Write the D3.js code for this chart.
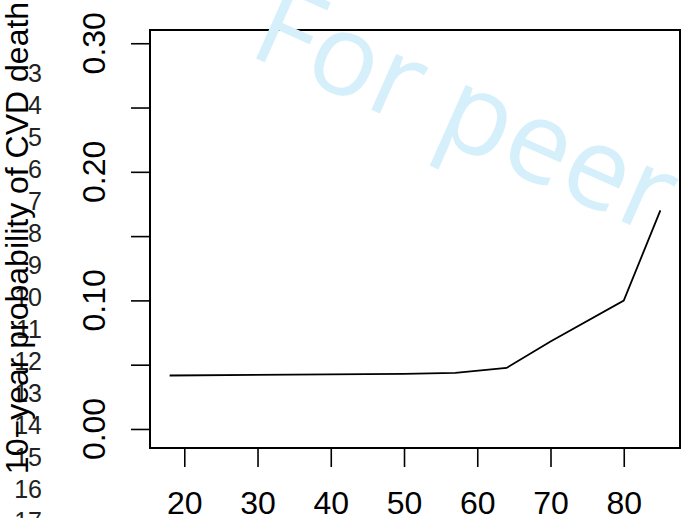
<!DOCTYPE html>
<html>
<head>
<meta charset="utf-8">
<script src="https://cdn.jsdelivr.net/npm/d3@7"></script>
<style>
  html, body { margin: 0; padding: 0; background: #fff; }
  svg { display: block; }
</style>
</head>
<body>
<div id="chart"></div>
<script>
const ages = [18, 50, 57, 64, 70, 80, 85];
const risk = [0.0416, 0.0428, 0.0436, 0.0475, 0.068, 0.0998, 0.170];
const xTicks = [20, 30, 40, 50, 60, 70, 80];
const yTicks = [0, 0.05, 0.10, 0.15, 0.20, 0.25, 0.30];
const yLabelled = [0, 0.10, 0.20, 0.30];
const lineNumbers = [3, 4, 5, 6, 7, 8, 9, 10, 11, 12, 13, 14, 15, 16, 17];

const W = 681, H = 518;
const box = { left: 150, right: 680, top: 30, bottom: 448 };
const font = 'Liberation Sans, Arial, Helvetica, sans-serif';

const svg = d3.select('#chart').append('svg')
  .attr('width', W).attr('height', H)
  .attr('viewBox', `0 0 ${W} ${H}`);

// R pads the data range by 4% on each side
const xPad = (d3.max(ages) - d3.min(ages)) * 0.04;
const x = d3.scaleLinear()
  .domain([d3.min(ages) - xPad, d3.max(ages) + xPad])
  .range([box.left, box.right]);
const y = d3.scaleLinear()
  .domain([-0.0148, 0.3103])
  .range([box.bottom, box.top]);

// manuscript line numbers in the margin
svg.append('g')
  .selectAll('text').data(lineNumbers).join('text')
  .attr('x', 42)
  .attr('y', d => 296.7 + (d - 10) * 32 + 9)
  .attr('text-anchor', 'end')
  .attr('font-family', font).attr('font-size', 25)
  .attr('fill', '#222')
  .text(d => d);

// x axis
const xAxis = svg.append('g')
  .attr('transform', `translate(0,${box.bottom})`)
  .call(d3.axisBottom(x).tickValues(xTicks).tickSize(19).tickPadding(0).tickFormat(d3.format('d')));
xAxis.select('.domain').remove();
xAxis.selectAll('line').attr('stroke', '#000').attr('stroke-width', 1.6);
xAxis.selectAll('text')
  .attr('font-family', font).attr('font-size', 32).attr('fill', '#000')
  .attr('dy', null).attr('y', 66);

// y axis
const yAxis = svg.append('g')
  .attr('transform', `translate(${box.left},0)`)
  .call(d3.axisLeft(y).tickValues(yTicks).tickSize(19).tickFormat(''));
yAxis.select('.domain').remove();
yAxis.selectAll('line').attr('stroke', '#000').attr('stroke-width', 1.6);

svg.append('g')
  .selectAll('text').data(yLabelled).join('text')
  .attr('transform', d => `translate(105,${y(d)}) rotate(-90)`)
  .attr('text-anchor', 'middle')
  .attr('font-family', font).attr('font-size', 32).attr('fill', '#000')
  .text(d => d.toFixed(2));

// y label
svg.append('text')
  .attr('transform', `translate(28,${(box.top + box.bottom) / 2 - 1}) rotate(-90)`)
  .attr('text-anchor', 'middle')
  .attr('font-family', font).attr('font-size', 32).attr('fill', '#000')
  .text('10\u2212year probability of CVD death');

// data line
svg.append('path')
  .datum(ages.map((a, i) => [a, risk[i]]))
  .attr('fill', 'none').attr('stroke', '#000').attr('stroke-width', 1.8)
  .attr('d', d3.line().x(d => x(d[0])).y(d => y(d[1])));

// plot box
svg.append('rect')
  .attr('x', box.left).attr('y', box.top)
  .attr('width', box.right - box.left).attr('height', box.bottom - box.top)
  .attr('fill', 'none').attr('stroke', '#000').attr('stroke-width', 2);

// watermark
svg.append('text')
  .attr('transform', 'translate(246,54) rotate(24)')
  .attr('font-family', '"Open Sans", sans-serif').attr('font-size', 114)
  .attr('fill', '#d5effb')
  .text('For peer review only');
</script>
</body>
</html>
